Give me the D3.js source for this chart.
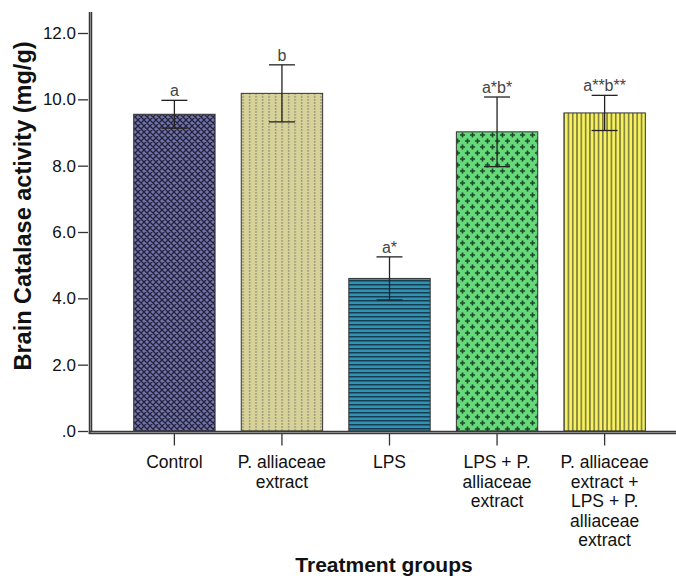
<!DOCTYPE html>
<html>
<head>
<meta charset="utf-8">
<title>Brain Catalase activity</title>
<script src="https://cdn.jsdelivr.net/npm/d3@7"></script>
<style>
  body { margin: 0; background: #fff; }
  svg { font-family: Arial, "Liberation Sans", sans-serif; display: block; }
  .tick text { fill: #111; }
</style>
</head>
<body>
<script>
  // chart values
  var groups = ["Control", "P. alliaceae extract", "LPS", "LPS + P. alliaceae extract",
                "P. alliaceae extract + LPS + P. alliaceae extract"];
  var labelLines = [["Control"], ["P. alliaceae", "extract"], ["LPS"],
                    ["LPS + P.", "alliaceae", "extract"],
                    ["P. alliaceae", "extract +", "LPS + P.", "alliaceae", "extract"]];
  var means = [9.55, 10.18, 4.60, 9.02, 9.59];
  var errs = [0.42, 0.86, 0.65, 1.05, 0.53];
  var letters = ["a", "b", "a*", "a*b*", "a**b**"];
  var yTicks = [0, 2, 4, 6, 8, 10, 12];

  var width = 676, height = 578;
  var axisX = 90.5, axisY = 432.5;

  var svg = d3.select("body").append("svg")
    .attr("width", width).attr("height", height);

  // y scale: 0 at 431, 12 at 33
  var y = d3.scaleLinear().domain([0, 12]).range([431, 33]);
  var x = d3.scaleBand().domain(groups).range([91, 688])
    .paddingInner(0.2435).paddingOuter(0.397);

  // fill patterns
  var defs = svg.append("defs");

  var p0 = defs.append("pattern").attr("id", "pat0").attr("patternUnits", "userSpaceOnUse")
    .attr("width", 6).attr("height", 6);
  p0.append("rect").attr("width", 6).attr("height", 6).attr("fill", "#7272ac");
  p0.append("path").attr("d", "M0,0L6,6M6,0L0,6M-1,5L1,7M5,-1L7,1M-1,1L1,-1M5,7L7,5")
    .attr("stroke", "#23233c").attr("stroke-width", 1.3);

  var p1 = defs.append("pattern").attr("id", "pat1").attr("patternUnits", "userSpaceOnUse")
    .attr("width", 6.5).attr("height", 3);
  p1.append("rect").attr("width", 6.5).attr("height", 3).attr("fill", "#d7d29a");
  p1.append("rect").attr("x", 2).attr("y", 0).attr("width", 1.2).attr("height", 1.8).attr("fill", "#8b8870");

  var p2 = defs.append("pattern").attr("id", "pat2").attr("patternUnits", "userSpaceOnUse")
    .attr("width", 4).attr("height", 4);
  p2.append("rect").attr("width", 4).attr("height", 4).attr("fill", "#2f93b5");
  p2.append("rect").attr("y", 0).attr("width", 4).attr("height", 1.5).attr("fill", "#183c50");

  var p3 = defs.append("pattern").attr("id", "pat3").attr("patternUnits", "userSpaceOnUse")
    .attr("width", 10).attr("height", 12);
  p3.append("rect").attr("width", 10).attr("height", 12).attr("fill", "#66da7a");
  [[2.5, 3], [7.5, 9]].forEach(function(c) {
    p3.append("path")
      .attr("d", "M" + (c[0] - 2.6) + "," + c[1] + "h5.2M" + c[0] + "," + (c[1] - 2.6) + "v5.2")
      .attr("stroke", "#1d4a2a").attr("stroke-width", 1.7);
  });

  var p4 = defs.append("pattern").attr("id", "pat4").attr("patternUnits", "userSpaceOnUse")
    .attr("width", 4.3).attr("height", 4);
  p4.append("rect").attr("width", 4.3).attr("height", 4).attr("fill", "#f6f15e");
  p4.append("rect").attr("x", 0).attr("width", 1.6).attr("height", 4).attr("fill", "#7f7c3e");

  // bars
  svg.append("g").selectAll("rect")
    .data(groups)
    .enter()
    .append("rect")
    .attr("x", function(d) { return x(d); })
    .attr("y", function(d, i) { return y(means[i]); })
    .attr("width", x.bandwidth())
    .attr("height", function(d, i) { return y(0) - y(means[i]); })
    .attr("fill", function(d, i) { return "url(#pat" + i + ")"; })
    .attr("stroke", "#333")
    .attr("stroke-width", 1);

  // error bars
  var eb = svg.append("g").selectAll("g")
    .data(groups)
    .enter()
    .append("g")
    .attr("stroke", "#222")
    .attr("stroke-width", 1.3);
  eb.append("line")
    .attr("x1", function(d) { return x(d) + x.bandwidth() / 2; })
    .attr("x2", function(d) { return x(d) + x.bandwidth() / 2; })
    .attr("y1", function(d, i) { return y(means[i] - errs[i]); })
    .attr("y2", function(d, i) { return y(means[i] + errs[i]); });
  [-1, 1].forEach(function(s) {
    eb.append("line")
      .attr("x1", function(d) { return x(d) + x.bandwidth() / 2 - 13; })
      .attr("x2", function(d) { return x(d) + x.bandwidth() / 2 + 13; })
      .attr("y1", function(d, i) { return y(means[i] + s * errs[i]); })
      .attr("y2", function(d, i) { return y(means[i] + s * errs[i]); });
  });

  // significance letters
  svg.append("g").selectAll("text")
    .data(groups)
    .enter()
    .append("text")
    .attr("x", function(d) { return x(d) + x.bandwidth() / 2; })
    .attr("y", function(d, i) { return y(means[i] + errs[i]) - 4; })
    .attr("text-anchor", "middle")
    .attr("font-size", 16)
    .attr("fill", "#444")
    .text(function(d, i) { return letters[i]; });

  // y axis
  var yAxis = d3.axisLeft(y).tickValues(yTicks).tickSize(10).tickPadding(2)
    .tickFormat(function(d) { return d === 0 ? ".0" : d.toFixed(1); });
  var gy = svg.append("g").attr("transform", "translate(88,0)").call(yAxis);
  gy.select(".domain").remove();
  gy.selectAll("line").attr("stroke", "#333").attr("stroke-width", 1.3);
  gy.selectAll("text").attr("font-size", 17).attr("font-family", "Arial, 'Liberation Sans', sans-serif");

  // x axis ticks and multi-line labels
  var xAxis = d3.axisBottom(x).tickSize(12).tickFormat("");
  var gx = svg.append("g").attr("transform", "translate(0," + (axisY + 1) + ")").call(xAxis);
  gx.select(".domain").remove();
  gx.selectAll("line").attr("stroke", "#333").attr("stroke-width", 1.3);

  var lab = svg.append("g").selectAll("text")
    .data(groups)
    .enter()
    .append("text")
    .attr("text-anchor", "middle")
    .attr("font-size", 17.5)
    .attr("fill", "#111")
    .attr("transform", function(d) { return "translate(" + (x(d) + x.bandwidth() / 2) + ",468)"; });
  lab.each(function(d, i) {
    var t = d3.select(this);
    labelLines[i].forEach(function(line, k) {
      t.append("tspan").attr("x", 0).attr("y", k * 19.5).text(line);
    });
  });

  // axis lines (double line look)
  svg.append("line").attr("x1", axisX).attr("x2", axisX).attr("y1", 12).attr("y2", axisY + 1.5)
    .attr("stroke", "#3a3a3a").attr("stroke-width", 3.5);
  svg.append("line").attr("x1", axisX).attr("x2", axisX).attr("y1", 12).attr("y2", axisY)
    .attr("stroke", "#8a8a8a").attr("stroke-width", 1);
  svg.append("line").attr("x1", axisX - 1.75).attr("x2", width).attr("y1", axisY).attr("y2", axisY)
    .attr("stroke", "#3a3a3a").attr("stroke-width", 3.5);
  svg.append("line").attr("x1", axisX).attr("x2", width).attr("y1", axisY).attr("y2", axisY)
    .attr("stroke", "#8a8a8a").attr("stroke-width", 1);

  // axis titles
  svg.append("text")
    .attr("transform", "translate(31,206) rotate(-90)")
    .attr("text-anchor", "middle")
    .attr("font-size", 23.5)
    .attr("font-weight", "bold")
    .attr("fill", "#111")
    .text("Brain Catalase activity (mg/g)");

  svg.append("text")
    .attr("x", 384).attr("y", 572)
    .attr("text-anchor", "middle")
    .attr("font-size", 21)
    .attr("font-weight", "bold")
    .attr("fill", "#111")
    .text("Treatment groups");
</script>
</body>
</html>
